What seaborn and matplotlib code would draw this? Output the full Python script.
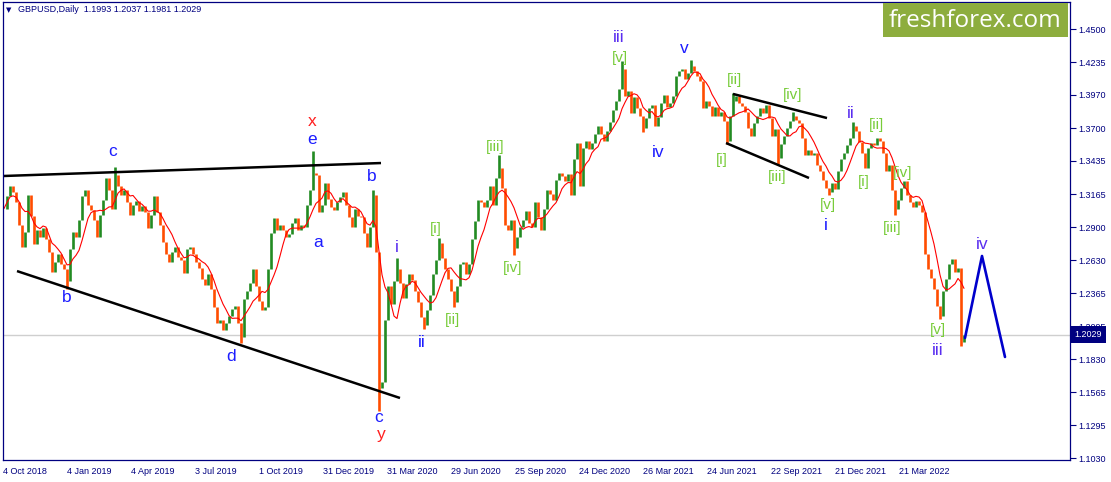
import numpy as np
import pandas as pd
import matplotlib
matplotlib.use("Agg")
import matplotlib.pyplot as plt
from matplotlib.patches import Rectangle
import seaborn as sns

# closes sampled every 3 trading days, 4 Oct 2018 -> 15 Jun 2022
closes = [
    1.3050, 1.3150, 1.3230, 1.3180, 1.3100, 1.2920, 1.2740, 1.2860, 1.3160, 1.2990,
    1.2760, 1.2880, 1.2820, 1.2890, 1.2800, 1.2700, 1.2540, 1.2620, 1.2680, 1.2600,
    1.2560, 1.2460, 1.2720, 1.2860, 1.2820, 1.2960, 1.3150, 1.3200, 1.3080, 1.3040,
    1.2960, 1.2820, 1.3000, 1.3120, 1.3300, 1.3200, 1.3050, 1.3320, 1.3230, 1.3160,
    1.3200, 1.3100, 1.3000, 1.3080, 1.3110, 1.3030, 1.3070, 1.3020, 1.2890, 1.3000,
    1.3150, 1.3020, 1.2920, 1.2780, 1.2680, 1.2620, 1.2700, 1.2740, 1.2660, 1.2630,
    1.2530, 1.2720, 1.2740, 1.2680, 1.2620, 1.2570, 1.2480, 1.2430, 1.2520, 1.2400,
    1.2250, 1.2120, 1.2150, 1.2070, 1.2120, 1.2180, 1.2240, 1.2260, 1.2120, 1.2010,
    1.2320, 1.2380, 1.2450, 1.2560, 1.2420, 1.2300, 1.2230, 1.2250, 1.2560, 1.2850,
    1.2970, 1.2880, 1.2920, 1.2880, 1.2820, 1.2840, 1.2930, 1.2970, 1.2880, 1.2920,
    1.2900, 1.3080, 1.3200, 1.3340, 1.3320, 1.3020, 1.3080, 1.3260, 1.3130, 1.3060,
    1.3040, 1.3100, 1.3140, 1.3180, 1.3080, 1.2980, 1.2900, 1.3050, 1.2990, 1.2980,
    1.2850, 1.2740, 1.2900, 1.3160, 1.2700, 1.1600, 1.1650, 1.2150, 1.2420, 1.2280,
    1.2460, 1.2560, 1.2450, 1.2330, 1.2440, 1.2520, 1.2470, 1.2380, 1.2290, 1.2170,
    1.2110, 1.2230, 1.2350, 1.2520, 1.2630, 1.2770, 1.2650, 1.2560, 1.2480, 1.2380,
    1.2290, 1.2420, 1.2600, 1.2620, 1.2520, 1.2600, 1.2800, 1.2950, 1.3120, 1.3100,
    1.3060, 1.3120, 1.3230, 1.3080, 1.3300, 1.3380, 1.3220, 1.2920, 1.2880, 1.2960,
    1.2730, 1.2820, 1.2900, 1.2960, 1.3030, 1.2930, 1.2900, 1.3100, 1.2980, 1.2880,
    1.3050, 1.3200, 1.3170, 1.3120, 1.3280, 1.3340, 1.3310, 1.3270, 1.3330, 1.3160,
    1.3450, 1.3580, 1.3230, 1.3540, 1.3600, 1.3530, 1.3580, 1.3650, 1.3720, 1.3650,
    1.3600, 1.3680, 1.3750, 1.3850, 1.3920, 1.4020, 1.4180, 1.3960, 1.4000, 1.3820,
    1.3950, 1.3860, 1.3800, 1.3700, 1.3780, 1.3860, 1.3890, 1.3720, 1.3790, 1.3900,
    1.3970, 1.3870, 1.3900, 1.3960, 1.4120, 1.4160, 1.4180, 1.4100, 1.4150, 1.4200,
    1.4160, 1.4120, 1.4080, 1.3860, 1.3920, 1.3880, 1.3800, 1.3870, 1.3800, 1.3830,
    1.3760, 1.3600, 1.3800, 1.3920, 1.3960, 1.3900, 1.3880, 1.3830, 1.3700, 1.3640,
    1.3740, 1.3800, 1.3860, 1.3820, 1.3890, 1.3780, 1.3640, 1.3690, 1.3460, 1.3570,
    1.3640, 1.3700, 1.3760, 1.3800, 1.3770, 1.3740, 1.3620, 1.3480, 1.3520, 1.3480,
    1.3500, 1.3400, 1.3350, 1.3280, 1.3220, 1.3180, 1.3260, 1.3210, 1.3350, 1.3450,
    1.3500, 1.3560, 1.3620, 1.3720, 1.3680, 1.3590, 1.3500, 1.3380, 1.3540, 1.3580,
    1.3560, 1.3620, 1.3600, 1.3500, 1.3350, 1.3400, 1.3200, 1.3050, 1.3120, 1.3220,
    1.3270, 1.3160, 1.3100, 1.3060, 1.3110, 1.3080, 1.3020, 1.2680, 1.2560, 1.2490,
    1.2400, 1.2260, 1.2180, 1.2380, 1.2480, 1.2600, 1.2640, 1.2540, 1.2570, 1.1970,
    1.2029,
]

# wick extremes (bar number, price)
spike_bar = [21, 37, 79, 103, 123, 125, 131, 140, 145, 150, 165, 170, 206, 213,
             229, 241, 243, 258, 263, 275, 283, 297, 312, 319]
spike_price = [1.2400, 1.3385, 1.1960, 1.3514, 1.3200, 1.1409, 1.2647, 1.2075,
               1.2813, 1.2252, 1.3482, 1.2676, 1.4241, 1.3669, 1.4250, 1.3572,
               1.3983, 1.3412, 1.3834, 1.3160, 1.3749, 1.3000, 1.2155, 1.1934]

date_labels = ["4 Oct 2018", "4 Jan 2019", "4 Apr 2019", "3 Jul 2019", "1 Oct 2019",
               "31 Dec 2019", "31 Mar 2020", "29 Jun 2020", "25 Sep 2020",
               "24 Dec 2020", "26 Mar 2021", "24 Jun 2021", "22 Sep 2021",
               "21 Dec 2021", "21 Mar 2022"]
price_ticks = [1.1030, 1.1295, 1.1565, 1.1830, 1.2095, 1.2365, 1.2630, 1.2900,
               1.3165, 1.3435, 1.3700, 1.3970, 1.4235, 1.4500]
last_price = 1.2029
title = "GBPUSD,Daily  1.1993 1.2037 1.1981 1.2029"

# elliott wave labels
wave_text = ["c", "b", "d", "x", "e", "a", "b", "c", "y", "i", "ii", "[i]", "[ii]",
             "[iii]", "[iv]", "iii", "[v]", "iv", "v", "[i]", "[ii]", "[iii]", "[iv]",
             "[v]", "i", "ii", "[ii]", "[i]", "[iv]", "[iii]", "[v]", "iii", "iv"]
wave_day = [110, 64, 228, 309, 309, 315, 369, 376, 378, 394, 419, 433, 449,
            492, 510, 616, 617, 655, 681, 719, 732, 774, 790,
            825, 823, 848, 874, 861, 900, 889, 935, 935, 979]
wave_price = [1.3515, 1.2334, 1.1849, 1.3758, 1.3612, 1.2779, 1.3313, 1.1356, 1.1218,
              1.2738, 1.1970, 1.2884, 1.2148, 1.3547, 1.2569, 1.4430, 1.4268, 1.3507,
              1.4341, 1.3443, 1.4090, 1.3305, 1.3968, 1.3078, 1.2916, 1.3815, 1.3726,
              1.3265, 1.3338, 1.2893, 1.2068, 1.1898, 1.2755]
wave_kind = ["blue", "blue", "blue", "red", "blue", "blue", "blue", "blue", "red",
             "violet", "blue", "green", "green", "green", "green", "violet", "green",
             "blue", "blue", "green", "green", "green", "green", "green", "blue",
             "violet", "green", "green", "green", "green", "green", "violet", "violet"]

# hand drawn lines
tri_top_day, tri_top_px = [0, 378], [1.3313, 1.3418]
tri_bot_day, tri_bot_px = [14, 397], [1.2544, 1.1517]
ch_top_day, ch_top_px = [730, 824], [1.3977, 1.3782]
ch_bot_day, ch_bot_px = [723, 806], [1.3580, 1.3297]
proj_day, proj_px = [962, 979, 1002], [1.2003, 1.2666, 1.1849]

navy = "#000080"
colors = {"blue": "#1c1cff", "violet": "#5a2ef0", "red": "#ff2020", "green": "#78cc3a"}

sns.set_style("white")
plt.rcParams["font.family"] = ["Liberation Sans", "DejaVu Sans"]

W, H = 1111, 482
fig = plt.figure(figsize=(W / 100, H / 100), dpi=100)
ax = fig.add_axes([3 / W, 22 / H, 1067 / W, 458 / H])

df = pd.DataFrame({"close": closes})
df["day"] = np.arange(len(df)) * 3 + 1
df["open"] = df["close"].shift(1).fillna(df["close"].iloc[0])
df["hi"] = df[["open", "close"]].max(axis=1)
df["lo"] = df[["open", "close"]].min(axis=1)
for b, p in zip(spike_bar, spike_price):
    df.loc[b, "hi"] = max(df.loc[b, "hi"], p)
    df.loc[b, "lo"] = min(df.loc[b, "lo"], p)
df["ma"] = df["close"].rolling(7, min_periods=1).mean()

ax.axhline(last_price, color="#cfcfcf", lw=1, zorder=0)

up = df["close"] >= df["open"]
ax.vlines(df.loc[up, "day"], df.loc[up, "lo"], df.loc[up, "hi"], color="#228b22", lw=1.9)
ax.vlines(df.loc[~up, "day"], df.loc[~up, "lo"], df.loc[~up, "hi"], color="#ff4d00", lw=1.9)
sns.lineplot(data=df, x="day", y="ma", color="#ff0000", lw=0.8, ax=ax)

for d, p in [(tri_top_day, tri_top_px), (tri_bot_day, tri_bot_px),
             (ch_top_day, ch_top_px), (ch_bot_day, ch_bot_px)]:
    ax.plot(d, p, color="black", lw=1.8, solid_capstyle="butt")
ax.plot(proj_day, proj_px, color="#0000cc", lw=1.9)

for t, d, p, k in zip(wave_text, wave_day, wave_price, wave_kind):
    fs = 11 if k == "green" else 12.5
    ax.text(d, p, t, color=colors[k], fontsize=fs, ha="center", va="center")

ax.set_xlim(0, 1067)
ax.set_ylim(1.10154, 1.47209)
ax.set_xlabel("")
ax.set_ylabel("")
ax.set_xticks(np.arange(len(date_labels)) * 64, labels=date_labels, ha="left")
ax.set_yticks(price_ticks, labels=[f"{v:.4f}" for v in price_ticks])
ax.yaxis.tick_right()
ax.tick_params(axis="both", colors=navy, labelsize=6.5, length=3, width=0.8,
               direction="out", pad=2)
ax.tick_params(axis="y", length=4)
for s in ax.spines.values():
    s.set_color(navy)
    s.set_linewidth(0.9)

# current price tag
ax.text(1.0045, last_price, f"{last_price:.4f}", transform=ax.get_yaxis_transform(),
        color="white", fontsize=6.5, ha="left", va="center",
        bbox=dict(boxstyle="square,pad=0.45", facecolor=navy, edgecolor="none"))

# header and watermark
fig.text(9 / W, 1 - 10 / H, "\u25bc", fontsize=5, color=navy, ha="center", va="center",
         family="DejaVu Sans")
fig.text(18 / W, 1 - 10 / H, title, fontsize=6.5, color=navy, va="center")
fig.add_artist(Rectangle((883 / W, 1 - 37 / H), 185 / W, 34 / H, transform=fig.transFigure,
                         facecolor="#8dad3e", edgecolor="none"))
fig.text(975 / W, 1 - 21 / H, "freshforex.com", fontsize=17.5, color="white",
         ha="center", va="center", family="Open Sans")

fig.savefig("out.png", dpi=100)
